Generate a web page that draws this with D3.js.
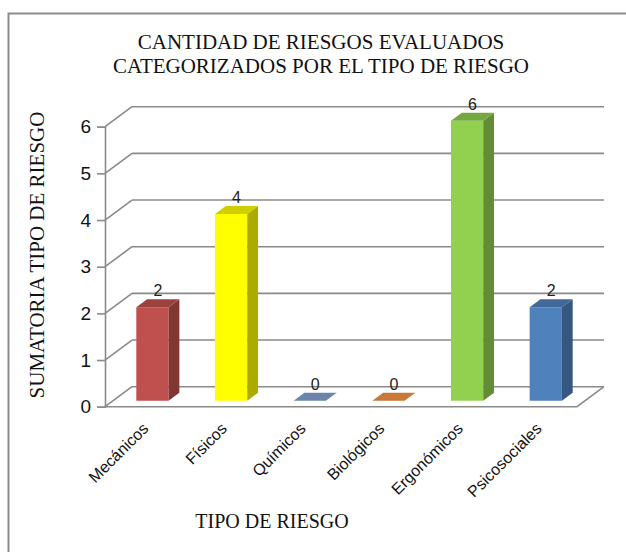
<!DOCTYPE html>
<html>
<head>
<meta charset="utf-8">
<script src="https://cdn.jsdelivr.net/npm/d3@7"></script>
<style>
  body { margin: 0; background: #fff; }
  svg { display: block; }
  .serif { font-family: 'Liberation Serif', 'DejaVu Serif', serif; }
  .sans { font-family: 'Liberation Sans', 'DejaVu Sans', sans-serif; }
</style>
</head>
<body>
<script>
var categories = ['Mecánicos', 'Físicos', 'Químicos', 'Biológicos', 'Ergonómicos', 'Psicosociales'];
var values = [2, 4, 0, 0, 6, 2];
var yTicks = [0, 1, 2, 3, 4, 5, 6];
var titleLines = ['CANTIDAD DE RIESGOS EVALUADOS', 'CATEGORIZADOS POR EL TIPO DE RIESGO'];
var yTitle = 'SUMATORIA TIPO DE RIESGO';
var xTitle = 'TIPO DE RIESGO';

var barColors = ['#C0504D', '#FFFF00', '#86A4D2', '#F79646', '#92D050', '#4F81BD'];

var W = 626, H = 552;
var depthX = 27, depthY = -20;
var zFront = 0.3, zBack = 0.7;
var gridColor = '#8a8a8a';

var svg = d3.select('body').append('svg').attr('width', W).attr('height', H);

// frame (only top and left edges show)
svg.append('path')
  .attr('d', 'M8.5,552V13.5H626')
  .attr('fill', 'none').attr('stroke', '#8c8c8c').attr('stroke-width', 2);

var x = d3.scaleBand().domain(categories).range([105, 577]);
var y = d3.scaleLinear().domain([0, 6]).range([406.7, 126.7]);

function px(v, z) { return v + depthX * z; }
function py(v, z) { return v + depthY * z; }

// walls
var walls = svg.append('g');
walls.selectAll('line.grid').data(yTicks).enter().append('line')
  .attr('class', 'grid')
  .attr('x1', px(105, 1)).attr('x2', px(577, 1))
  .attr('y1', function (d) { return py(y(d), 1); })
  .attr('y2', function (d) { return py(y(d), 1); })
  .attr('stroke', gridColor).attr('stroke-width', 1.6);
walls.selectAll('line.side').data(yTicks).enter().append('line')
  .attr('class', 'side')
  .attr('x1', 105).attr('x2', px(105, 1))
  .attr('y1', function (d) { return y(d); })
  .attr('y2', function (d) { return py(y(d), 1); })
  .attr('stroke', gridColor).attr('stroke-width', 1.6);

// floor outline
var fl = [[px(105, 0), py(y(0), 0)], [px(577, 0), py(y(0), 0)], [px(577, 1), py(y(0), 1)]];
walls.append('path')
  .attr('d', d3.line()(fl))
  .attr('fill', 'none').attr('stroke', gridColor).attr('stroke-width', 1.6);

// y axis
var yAxis = svg.append('g')
  .attr('transform', 'translate(105,0)')
  .call(d3.axisLeft(y).tickValues(yTicks).tickSize(8).tickPadding(6).tickFormat(d3.format('d')));
yAxis.attr('font-family', null);
yAxis.selectAll('path, line').attr('stroke', gridColor).attr('stroke-width', 1.6);
yAxis.selectAll('text')
  .attr('class', 'sans').attr('font-size', 19).attr('fill', '#111');

// bars
var bw = x.bandwidth() * 0.41;
var bars = svg.append('g').selectAll('g.bar')
  .data(categories.map(function (c, i) { return { cat: c, v: values[i], color: barColors[i] }; }))
  .enter().append('g').attr('class', 'bar');

bars.each(function (d) {
  var g = d3.select(this);
  var x0 = x(d.cat) + (x.bandwidth() - bw) / 2, x1 = x0 + bw;
  var yt = y(d.v), yb = y(0);
  var base = d3.color(d.color);
  if (d.v > 0) {
    g.append('polygon')
      .attr('points', [[px(x0, zFront), py(yt, zFront)], [px(x1, zFront), py(yt, zFront)],
        [px(x1, zFront), py(yb, zFront)], [px(x0, zFront), py(yb, zFront)]].join(' '))
      .attr('fill', base.formatHex());
    g.append('polygon')
      .attr('points', [[px(x1, zFront), py(yt, zFront)], [px(x1, zBack), py(yt, zBack)],
        [px(x1, zBack), py(yb, zBack)], [px(x1, zFront), py(yb, zFront)]].join(' '))
      .attr('fill', base.darker(1.1).formatHex());
  }
  g.append('polygon')
    .attr('points', [[px(x0, zFront), py(yt, zFront)], [px(x1, zFront), py(yt, zFront)],
      [px(x1, zBack), py(yt, zBack)], [px(x0, zBack), py(yt, zBack)]].join(' '))
    .attr('fill', base.darker(0.6).formatHex());
  g.append('text')
    .attr('class', 'sans')
    .attr('x', px(x(d.cat) + x.bandwidth() / 2, 0.5))
    .attr('y', py(yt, 0.5) - 7)
    .attr('text-anchor', 'middle')
    .attr('font-size', 16).attr('fill', '#222')
    .text(d.v);
});

// x axis labels
var xAxis = svg.append('g')
  .attr('transform', 'translate(0,' + (y(0) + 12) + ')')
  .call(d3.axisBottom(x).tickSize(0).tickPadding(0));
xAxis.attr('font-family', null);
xAxis.select('.domain').remove();
xAxis.selectAll('text')
  .attr('class', 'sans').attr('font-size', 16).attr('fill', '#111')
  .attr('text-anchor', 'end')
  .attr('dy', 0)
  .attr('transform', 'translate(5,11) rotate(-45)');

// titles
svg.append('g').selectAll('text').data(titleLines).enter().append('text')
  .attr('class', 'serif')
  .attr('x', 321).attr('y', function (d, i) { return 49 + i * 24; })
  .attr('text-anchor', 'middle')
  .attr('font-size', 21).attr('fill', '#111')
  .text(function (d) { return d; });

svg.append('text')
  .attr('class', 'serif')
  .attr('transform', 'translate(44,255) rotate(-90)')
  .attr('text-anchor', 'middle')
  .attr('font-size', 21).attr('fill', '#111')
  .text(yTitle);

svg.append('text')
  .attr('class', 'serif')
  .attr('x', 272).attr('y', 528)
  .attr('text-anchor', 'middle')
  .attr('font-size', 20).attr('fill', '#111')
  .text(xTitle);
</script>
</body>
</html>
